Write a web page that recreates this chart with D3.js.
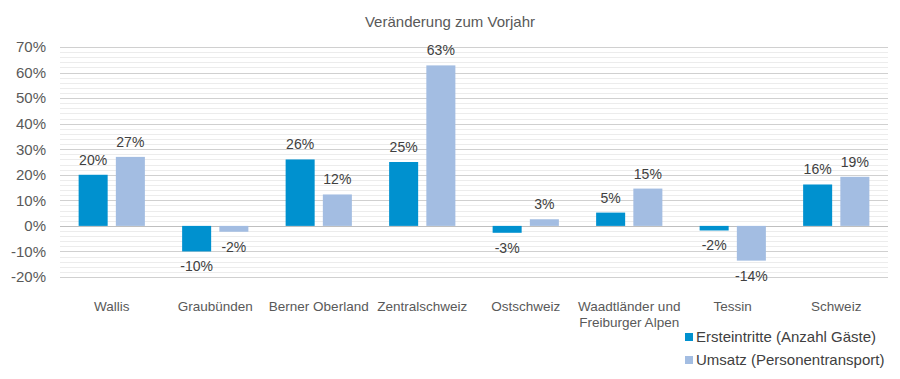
<!DOCTYPE html>
<html>
<head>
<meta charset="utf-8">
<script src="https://cdn.jsdelivr.net/npm/d3@7"></script>
<style>
  body { margin: 0; background: #fff; }
  svg { font-family: "Liberation Sans", Arial, sans-serif; }
</style>
</head>
<body>
<svg width="900" height="379"></svg>
<script>
var categories = ["Wallis", "Graubünden", "Berner Oberland", "Zentralschweiz", "Ostschweiz", "Waadtländer und|Freiburger Alpen", "Tessin", "Schweiz"];
var seriesNames = ["Ersteintritte (Anzahl Gäste)", "Umsatz (Personentransport)"];
var ersteintritte = [20, -10, 26, 25, -2.7, 5.2, -1.8, 16.2];
var umsatz = [27, -2.3, 12.3, 62.8, 2.6, 14.6, -13.6, 19.2];
var ersteLabels = ["20%", "-10%", "26%", "25%", "-3%", "5%", "-2%", "16%"];
var umsatzLabels = ["27%", "-2%", "12%", "63%", "3%", "15%", "-14%", "19%"];
var yTicks = [-20, -10, 0, 10, 20, 30, 40, 50, 60, 70];

var svg = d3.select("svg"),
    margin = {top: 47, right: 12, bottom: 102, left: 60},
    width = +svg.attr("width") - margin.left - margin.right,
    height = +svg.attr("height") - margin.top - margin.bottom,
    g = svg.append("g").attr("transform", "translate(" + margin.left + "," + margin.top + ")");

var colors = ["#0091cf", "#a3bde2"];

var data = categories.map(function(c, i) {
  return {cat: c, values: [
    {k: 0, v: ersteintritte[i], label: ersteLabels[i]},
    {k: 1, v: umsatz[i], label: umsatzLabels[i]}
  ]};
});

var x0 = d3.scaleBand().domain(categories).range([0, width]).paddingInner(0.36).paddingOuter(0.18);
var x1 = d3.scaleBand().domain([0, 1]).range([0, x0.bandwidth()]).paddingInner(0.22);
var y = d3.scaleLinear().domain([-20, 70]).range([height, 0]);

svg.append("text")
    .attr("x", 450)
    .attr("y", 27)
    .attr("text-anchor", "middle")
    .attr("fill", "#595959")
    .style("font-size", "15px")
    .text("Veränderung zum Vorjahr");

// minor gridlines every 2%
g.append("g")
  .selectAll("line")
  .data(d3.range(-20, 71, 2).filter(function(d) { return d % 10 !== 0; }))
  .enter().append("line")
    .attr("x1", 0).attr("x2", width)
    .attr("y1", function(d) { return Math.round(y(d)) + 0.5; })
    .attr("y2", function(d) { return Math.round(y(d)) + 0.5; })
    .attr("stroke", "#ececec");

// major gridlines
g.append("g")
  .selectAll("line")
  .data(yTicks)
  .enter().append("line")
    .attr("x1", 0).attr("x2", width)
    .attr("y1", function(d) { return Math.round(y(d)) + 0.5; })
    .attr("y2", function(d) { return Math.round(y(d)) + 0.5; })
    .attr("stroke", function(d) { return d === 0 ? "#bfbfbf" : "#d0d0d0"; });

var yAxis = g.append("g")
    .call(d3.axisLeft(y).tickValues(yTicks).tickSize(0).tickPadding(14).tickFormat(function(d) { return d + "%"; }));
yAxis.select(".domain").remove();
yAxis.selectAll("text")
    .attr("fill", "#595959")
    .style("font-size", "15px")
    .style("font-family", "Liberation Sans, Arial, sans-serif");

var groups = g.append("g")
  .selectAll("g")
  .data(data)
  .enter().append("g")
    .attr("transform", function(d) { return "translate(" + x0(d.cat) + ",0)"; });

groups.selectAll("rect")
  .data(function(d) { return d.values; })
  .enter().append("rect")
    .attr("x", function(d) { return x1(d.k); })
    .attr("y", function(d) { return y(Math.max(0, d.v)); })
    .attr("width", x1.bandwidth())
    .attr("height", function(d) { return Math.abs(y(d.v) - y(0)); })
    .attr("fill", function(d) { return colors[d.k]; });

groups.selectAll("text")
  .data(function(d) { return d.values; })
  .enter().append("text")
    .attr("x", function(d) { return x1(d.k) + x1.bandwidth() / 2; })
    .attr("y", function(d) { return d.v >= 0 ? y(d.v) - 10 : y(d.v) + 20; })
    .attr("text-anchor", "middle")
    .attr("fill", "#404040")
    .style("font-size", "14px")
    .text(function(d) { return d.label; });

// category labels
var xl = g.append("g")
  .selectAll("text")
  .data(categories)
  .enter().append("text")
    .attr("x", function(d) { return x0(d) + x0.bandwidth() / 2; })
    .attr("y", height + 34)
    .attr("text-anchor", "middle")
    .attr("fill", "#595959")
    .style("font-size", "13.5px");
xl.each(function(d) {
  var parts = d.split("|"), t = d3.select(this);
  parts.forEach(function(p, i) {
    t.append("tspan").attr("x", t.attr("x")).attr("dy", i ? 16 : 0).text(p);
  });
});

var legend = svg.append("g")
  .selectAll("g")
  .data(seriesNames)
  .enter().append("g")
    .attr("transform", function(d, i) { return "translate(685," + (342 + i * 23) + ")"; });

legend.append("rect")
    .attr("x", 0).attr("y", -9)
    .attr("width", 8).attr("height", 8)
    .attr("fill", function(d, i) { return colors[i]; });

legend.append("text")
    .attr("x", 11)
    .attr("y", 0)
    .attr("fill", "#404040")
    .style("font-size", "15px")
    .text(function(d) { return d; });
</script>
</body>
</html>
